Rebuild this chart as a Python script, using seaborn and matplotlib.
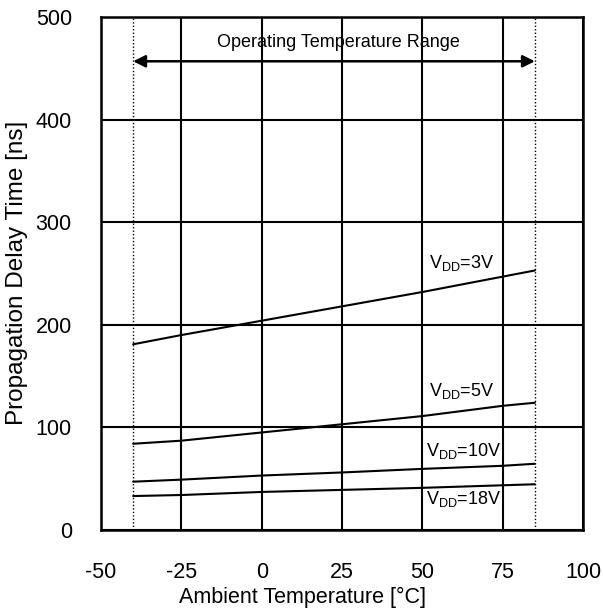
import matplotlib
matplotlib.use("Agg")
import matplotlib.pyplot as plt
import seaborn as sns
import pandas as pd

temps = [-40, -25, 0, 25, 50, 75, 85]
delay_3v = [181, 190, 204, 218, 232, 247, 253]
delay_5v = [84, 87, 95, 103, 111, 121, 124]
delay_10v = [47, 49, 53, 56, 59.5, 62.5, 64.5]
delay_18v = [33, 34, 37, 39, 41, 43.5, 44.5]
series_names = ["3V", "5V", "10V", "18V"]
label_texts = ["V$_{\\mathregular{DD}}$=3V", "V$_{\\mathregular{DD}}$=5V",
               "V$_{\\mathregular{DD}}$=10V", "V$_{\\mathregular{DD}}$=18V"]
label_x = [52, 52, 51, 51]
label_y = [260, 135, 77, 30]
range_min, range_max = -40, 85
x_ticks = [-50, -25, 0, 25, 50, 75, 100]
y_ticks = [0, 100, 200, 300, 400, 500]

rows = []
for name, vals in zip(series_names, [delay_3v, delay_5v, delay_10v, delay_18v]):
    for t, v in zip(temps, vals):
        rows.append({"Temp": t, "Delay": v, "VDD": name})
df = pd.DataFrame(rows)

sns.set_theme(style="white")
plt.rcParams['font.family'] = ['Liberation Sans', 'DejaVu Sans']
plt.rcParams['mathtext.fontset'] = 'custom'
plt.rcParams['mathtext.rm'] = 'Liberation Sans'
plt.rcParams['axes.unicode_minus'] = False

fig = plt.figure(figsize=(6.03, 6.14), dpi=100)
ax = fig.add_axes([0.1675, 0.137, 0.7995, 0.835])

sns.lineplot(data=df, x="Temp", y="Delay", hue="VDD", units="VDD", estimator=None,
             palette=["black"] * 4, linewidth=1.5, legend=False, ax=ax, zorder=3)

ax.set_xlim(-50, 100)
ax.set_ylim(0, 500)
ax.set_xticks(x_ticks)
ax.set_yticks(y_ticks)
ax.grid(True, color="black", linewidth=1.5)
ax.set_axisbelow(True)
for s in ax.spines.values():
    s.set_color("black")
    s.set_linewidth(1.8)
ax.tick_params(axis="x", length=0, labelsize=15.5, colors="black", pad=23)
ax.tick_params(axis="y", length=0, labelsize=15.5, colors="black", pad=21)

ax.axvline(range_min, color="black", linestyle=(0, (1, 1.5)), linewidth=1.0, zorder=2)
ax.axvline(range_max, color="black", linestyle=(0, (1, 1.5)), linewidth=1.0, zorder=2)

ax.annotate("", xy=(range_min, 457), xytext=(range_max, 457),
            arrowprops=dict(arrowstyle="<|-|>", color="black", lw=1.8,
                            mutation_scale=18, shrinkA=0, shrinkB=0), zorder=4)
ax.text(23.9, 475, "Operating Temperature Range",
        ha="center", va="center", fontsize=13, color="black")

for t, lx, ly in zip(label_texts, label_x, label_y):
    ax.text(lx, ly, t, ha="left", va="center", fontsize=13, color="black")

ax.set_xlabel("Ambient Temperature [°C]", fontsize=15.5, color="black")
ax.set_ylabel("Propagation Delay Time [ns]", fontsize=17.5, color="black")
ax.xaxis.set_label_coords(0.417, -0.112)
ax.yaxis.set_label_coords(-0.152, 0.502)

fig.savefig("out.png", dpi=100)
